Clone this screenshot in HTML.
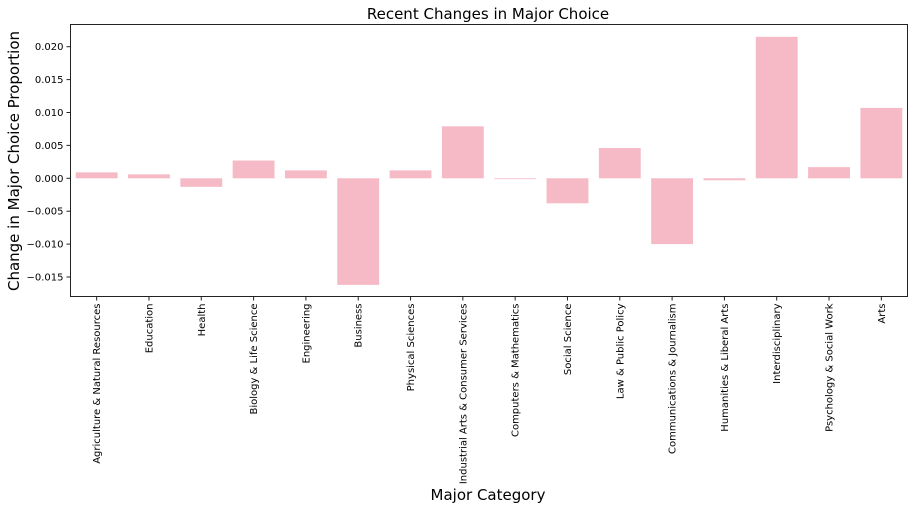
<!DOCTYPE html>
<html><head><meta charset="utf-8"><style>
body{margin:0;background:#fff;font-family:"Liberation Sans","DejaVu Sans",sans-serif;}
svg text{font-family:"DejaVu Sans","Liberation Sans",sans-serif;fill:#000;}
</style></head><body>
<svg id="chart" width="917" height="510" xmlns="http://www.w3.org/2000/svg">
<text x="488" y="19" font-size="15" text-anchor="middle">Recent Changes in Major Choice</text>
<text x="488" y="500" font-size="15" text-anchor="middle">Major Category</text>
<text transform="translate(19,161) rotate(-90)" font-size="15" text-anchor="middle">Change in Major Choice Proportion</text>
<g id="bars"></g><g id="yticks"></g><g id="xticks"></g>
<rect x="70.5" y="24.5" width="837" height="272" fill="none" stroke="#222" stroke-width="1"/>
</svg>
<script>
const categories=["Agriculture & Natural Resources","Education","Health","Biology & Life Science","Engineering","Business","Physical Sciences","Industrial Arts & Consumer Services","Computers & Mathematics","Social Science","Law & Public Policy","Communications & Journalism","Humanities & Liberal Arts","Interdisciplinary","Psychology & Social Work","Arts"];
const values=[0.0009,0.0006,-0.0013,0.0027,0.0012,-0.0162,0.0012,0.0079,-0.0001,-0.0038,0.0046,-0.0100,-0.0003,0.0215,0.0017,0.0107];
const yTicks=[0.020,0.015,0.010,0.005,0.000,-0.005,-0.010,-0.015];
const yTickLabels=["0.020","0.015","0.010","0.005","0.000","\u22120.005","\u22120.010","\u22120.015"];
const NS="http://www.w3.org/2000/svg";
const L=70.5,R=907.5,T=24.5,B=296.5;
const y=v=>178.3-v*6580;
const band=(R-L)/categories.length;
const x=i=>L+band*(i+0.5);
const bw=band*0.8;
const gb=document.getElementById('bars'),gy=document.getElementById('yticks'),gx=document.getElementById('xticks');
values.forEach((v,i)=>{
  const r=document.createElementNS(NS,'rect');
  
  
  r.setAttribute('x',x(i)-bw/2);r.setAttribute('width',bw);
  r.setAttribute('y',Math.min(y(v),y(0)));r.setAttribute('height',Math.max(Math.abs(y(v)-y(0)),0.8));
  r.setAttribute('fill','#f5bac5');gb.appendChild(r);
});
yTicks.forEach((t,i)=>{
  const l=document.createElementNS(NS,'line');
  
  
  l.setAttribute('x1',L-4);l.setAttribute('x2',L);l.setAttribute('y1',y(t));l.setAttribute('y2',y(t));l.setAttribute('stroke','#222');gy.appendChild(l);
  const tx=document.createElementNS(NS,'text');
  
  
  tx.setAttribute('x',L-7);tx.setAttribute('y',y(t)+3.5);tx.setAttribute('font-size','10');tx.setAttribute('text-anchor','end');
  tx.textContent=yTickLabels[i];gy.appendChild(tx);
});
categories.forEach((c,i)=>{
  const l=document.createElementNS(NS,'line');
  
  
  l.setAttribute('x1',x(i));l.setAttribute('x2',x(i));l.setAttribute('y1',B);l.setAttribute('y2',B+4);l.setAttribute('stroke','#222');gx.appendChild(l);
  const tx=document.createElementNS(NS,'text');
  
  
  tx.setAttribute('transform','translate('+(x(i)+3.5)+','+(B+7)+') rotate(-90)');
  tx.setAttribute('font-size','10');tx.setAttribute('text-anchor','end');
  tx.textContent=c;gx.appendChild(tx);
});
</script>
</body></html>
